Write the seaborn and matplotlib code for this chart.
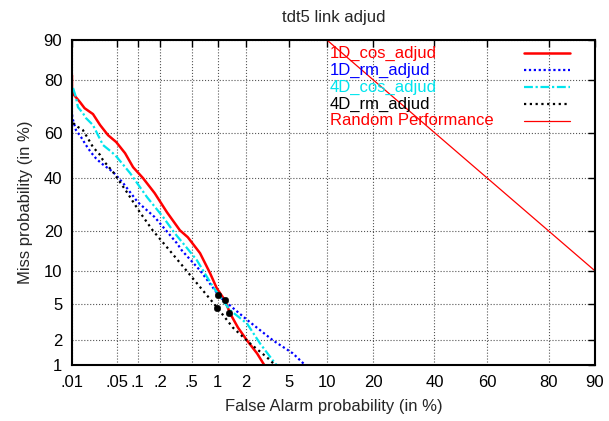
from statistics import NormalDist

import matplotlib.pyplot as plt
import numpy as np
import seaborn as sns

# DET curves, percent values
cos1d_fa = [0.01, 0.01, 0.0108, 0.0135, 0.016, 0.0217, 0.028, 0.037, 0.049, 0.066, 0.086, 0.118,
            0.17, 0.247, 0.36, 0.45, 0.63, 0.82, 0.98, 1.2, 1.36, 1.65, 2.04, 2.56, 3.0]
cos1d_miss = [81.4, 77.3, 74.9, 72.3, 70.0, 67.7, 63.2, 58.9, 55.9, 51.0, 44.8, 40.1,
              33.8, 26.4, 20.3, 18.2, 13.9, 9.6, 7.0, 5.4, 4.0, 2.8, 2.0, 1.4, 1.0]

rm1d_fa = [0.01, 0.0104, 0.0116, 0.014, 0.0168, 0.020, 0.024, 0.029, 0.044, 0.062, 0.10, 0.17,
           0.33, 0.38, 0.63, 1.06, 2.04, 3.62, 5.4, 6.8]
rm1d_miss = [67.5, 65.3, 61.1, 58.1, 54.6, 51.5, 48.8, 46.6, 42.7, 37.9, 30.2, 24.7,
             16.5, 14.6, 10.1, 5.8, 3.4, 2.0, 1.4, 1.0]

cos4d_fa = [0.0104, 0.0116, 0.0125, 0.015, 0.0168, 0.0217, 0.026, 0.031, 0.042, 0.05, 0.078, 0.134,
            0.22, 0.31, 0.44, 0.58, 0.89, 1.36, 2.04, 2.73, 3.77, 3.9]
cos4d_miss = [77.3, 74.1, 70.4, 68.1, 66.1, 63.2, 58.9, 54.6, 51.5, 49.3, 42.2, 32.2,
              24.7, 19.4, 15.2, 12.2, 7.2, 4.3, 3.1, 1.85, 1.05, 1.0]

rm4d_fa = [0.0104, 0.0116, 0.0125, 0.015, 0.018, 0.0217, 0.028, 0.031, 0.044, 0.070, 0.107, 0.16,
           0.247, 0.38, 0.63, 0.98, 1.46, 2.18, 3.18, 3.77]
rm4d_miss = [64.0, 63.2, 62.4, 61.1, 57.6, 53.7, 50.2, 47.9, 42.7, 34.2, 26.4, 20.3,
             15.4, 11.2, 7.2, 4.6, 2.8, 1.85, 1.25, 1.0]

# minimum cost points
dcf_fa = [1.33, 1.2, 1.01, 0.98]
dcf_miss = [4.0, 5.4, 6.0, 4.5]

random_fa = [10, 90]
random_miss = [90, 10]

labels = ['1D_cos_adjud', '1D_rm_adjud', '4D_cos_adjud', '4D_rm_adjud', 'Random Performance']
xtick_vals = [0.01, 0.05, 0.1, 0.2, 0.5, 1, 2, 5, 10, 20, 40, 60, 80, 90]
xtick_labels = ['.01', '.05', '.1', '.2', '.5', '1', '2', '5', '10', '20', '40', '60', '80', '90']
ytick_vals = [1, 2, 5, 10, 20, 40, 60, 80, 90]
ytick_labels = ['1', '2', '5', '10', '20', '40', '60', '80', '90']

sns.set_style('white')
plt.rcParams['font.family'] = ['Liberation Sans', 'DejaVu Sans']
plt.rcParams['font.size'] = 12

nd = NormalDist()
probit = np.vectorize(lambda p: nd.inv_cdf(min(max(p / 100.0, 1e-9), 1 - 1e-9)), otypes=[float])
unprobit = np.vectorize(lambda z: nd.cdf(z) * 100.0, otypes=[float])

fig = plt.figure(figsize=(6.09, 4.21), dpi=100)
ax = fig.add_axes([72 / 609, 1 - 365 / 421, 523 / 609, 325 / 421])
ax.set_xscale('function', functions=(probit, unprobit))
ax.set_yscale('function', functions=(probit, unprobit))

series = [
    (cos1d_fa, cos1d_miss, '#ff0000', '-', 1.8),
    (rm1d_fa, rm1d_miss, '#0000ff', (0, (1, 1.2)), 1.6),
    (cos4d_fa, cos4d_miss, '#00e5ee', (0, (4, 1.2, 1, 1.2)), 1.6),
    (rm4d_fa, rm4d_miss, '#000000', (0, (1, 1.6)), 1.6),
    (random_fa, random_miss, '#ff0000', '-', 0.9),
]
for fa, miss, col, ls, lw in series:
    sns.lineplot(x=fa, y=miss, color=col, linestyle=ls, linewidth=lw,
                 sort=False, estimator=None, ax=ax)

sns.scatterplot(x=dcf_fa, y=dcf_miss, color='black', s=22, edgecolor='black', zorder=5, ax=ax)

ax.set_xlim(0.01, 90)
ax.set_ylim(1, 90)
ax.set_xticks(xtick_vals)
ax.set_xticklabels(xtick_labels)
ax.set_yticks(ytick_vals)
ax.set_yticklabels(ytick_labels)
ax.minorticks_off()
ax.tick_params(direction='in', top=True, right=True, length=5, width=1, pad=7, colors='black')
ax.grid(True, color='#555555', linestyle=':', linewidth=0.8)
for sp in ax.spines.values():
    sp.set_color('black')
    sp.set_linewidth(1.5)

ax.set_xlabel('False Alarm probability (in %)', labelpad=7)
ax.set_ylabel('Miss probability (in %)', labelpad=8)
ax.set_title('tdt5 link adjud', fontsize=12, pad=13)

# gnuplot-style key: coloured labels on the left, line samples on the right
for i, (lab, (fa, miss, col, ls, lw)) in enumerate(zip(labels, series)):
    yy = 0.96 - i * 0.0523
    ax.text(0.493, yy, lab, color=col, transform=ax.transAxes, va='center', ha='left')
    ax.plot([0.864, 0.952], [yy, yy], color=col, linestyle=ls, linewidth=lw, transform=ax.transAxes)

fig.savefig('out.png', dpi=100)
